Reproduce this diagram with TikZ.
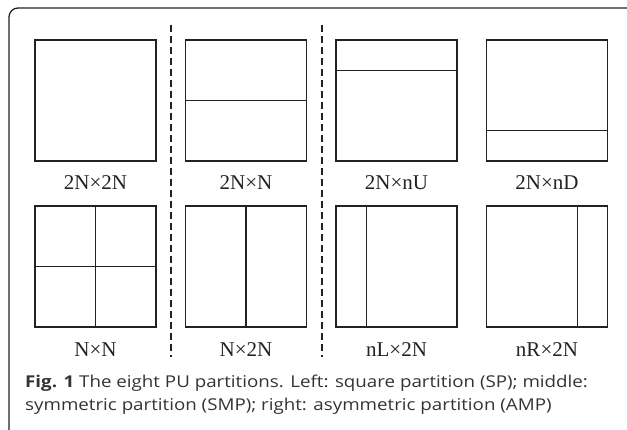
\documentclass[tikz,border=0pt]{standalone}
\usepackage{fontspec}
\setmainfont{Liberation Serif}
\newfontfamily\capfont[FakeStretch=1.15]{Open Sans}
\usetikzlibrary{calc}
\definecolor{ink}{HTML}{222222}
\definecolor{captxt}{HTML}{333333}
\begin{document}
\begin{tikzpicture}[x=1pt,y=-1pt,
  pubox/.style={draw=ink, line width=1.3pt, minimum width=121pt, minimum height=121pt, inner sep=0pt, outer sep=0pt},
  part/.style={draw=ink, line width=1.3pt},
  lbl/.style={text=ink, font=\fontsize{21}{23}\selectfont, inner sep=0pt, anchor=base},
  sep/.style={draw=ink, line width=1.2pt, dash pattern=on 7pt off 4pt},
  captext/.style={text=captxt, font=\capfont\fontsize{16.3}{22}\selectfont, inner sep=0pt, anchor=base west},
  frame/.style={draw=ink, line width=1.3pt, rounded corners=9pt}]
\useasboundingbox (0,0) rectangle (627,430);
\begin{scope}
\clip (0,0) rectangle (627,430);
\path[frame] (9,8) rectangle (640,440);
\end{scope}
% boxes
\node[pubox] (b1) at (95.5,100.5) {};
\node[pubox] (b2) at (246,100.5) {};
\node[pubox] (b3) at (396.5,100.5) {};
\node[pubox] (b4) at (547,100.5) {};
\node[pubox] (b5) at (95.5,266.5) {};
\node[pubox] (b6) at (246,266.5) {};
\node[pubox] (b7) at (396.5,266.5) {};
\node[pubox] (b8) at (547,266.5) {};
% partitions
\draw[part] (b2.west) -- (b2.east);
\draw[part] ($(b3.north west)!0.25!(b3.south west)$) -- ($(b3.north east)!0.25!(b3.south east)$);
\draw[part] ($(b4.north west)!0.75!(b4.south west)$) -- ($(b4.north east)!0.75!(b4.south east)$);
\draw[part] (b5.west) -- (b5.east);
\draw[part] (b5.north) -- (b5.south);
\draw[part] (b6.north) -- (b6.south);
\draw[part] ($(b7.north west)!0.25!(b7.north east)$) -- ($(b7.south west)!0.25!(b7.south east)$);
\draw[part] ($(b8.north west)!0.75!(b8.north east)$) -- ($(b8.south west)!0.75!(b8.south east)$);
% labels
\node[lbl] (l1) at (95.5,189.5) {2N×2N};
\node[lbl] (l2) at (246,189.5) {2N×N};
\node[lbl] (l3) at (396.5,189.5) {2N×nU};
\node[lbl] (l4) at (547,189.5) {2N×nD};
\node[lbl] (l5) at (95.5,357) {N×N};
\node[lbl] (l6) at (246,357) {N×2N};
\node[lbl] (l7) at (396.5,357) {nL×2N};
\node[lbl] (l8) at (547,357) {nR×2N};
% separators
\coordinate (s1t) at (171,25);
\coordinate (s1b) at (171,357);
\coordinate (s2t) at (322,25);
\coordinate (s2b) at (322,357);
\draw[sep] (s1t) -- (s1b);
\draw[sep] (s2t) -- (s2b);
% caption
\node[captext] (c1) at (25,388) {\textbf{Fig. 1} The eight PU partitions. Left: square partition (SP); middle:};
\node[captext] (c2) at (25,410) {symmetric partition (SMP); right: asymmetric partition (AMP)};
\end{tikzpicture}
\end{document}
